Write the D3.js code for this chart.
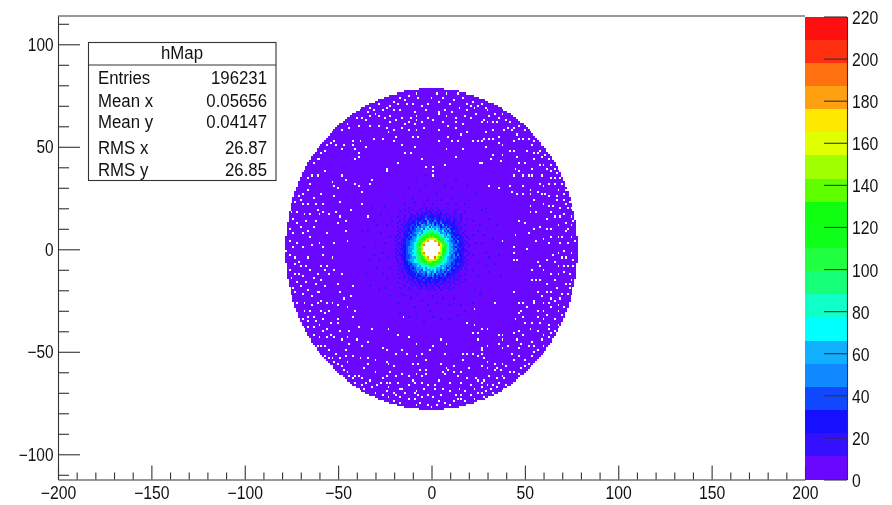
<!DOCTYPE html>
<html><head><meta charset="utf-8">
<script src="https://cdn.jsdelivr.net/npm/d3@7"></script>
<style>
html,body{margin:0;padding:0;background:#fff;overflow:hidden}
svg{display:block;filter:blur(0.4px)}
text{font-family:"Liberation Sans",Arial,sans-serif}
</style></head><body>
<svg id="c" width="892" height="505"></svg>
<script>
// Palette: one colour per 11-count band, from the colour bar, bottom to top
const bandColors=["#6a08ff","#3510ff","#1510ff","#1048ff","#1088ff","#10b0ff","#00ffff","#10ffc8","#15ff78","#20ff40","#10ff18","#10ff10","#60ff00","#a0ff00","#e0ff00","#ffe800","#ffa010","#ff7010","#ff3010","#ff1010"];
const bandWidth=11;
const zTicks=[0,20,40,60,80,100,120,140,160,180,200,220];
const xMajor=[-200,-150,-100,-50,0,50,100,150,200];
const yMajor=[-100,-50,0,50,100];
const xDomain=[-200,200], yDomain=[-112.3,113.8];
const diskRadius=78.3;
const statsTitle="hMap";
const statsNames=["Entries","Mean x","Mean y","RMS x","RMS y"];
const statsValues=["196231","0.05656","0.04147","26.87","26.85"];

// Colour band of the central bins, read row by row from y=20 down to y=-20, x=-20..20 ('.' = empty bin)
const centreRows=[
"00000000100000"+"010100"+"1"+"0010000100"+"0000100000",
"00000010001000"+"100101"+"0"+"1001010000"+"0010000000",
"00010000100010"+"010111"+"1"+"0110100100"+"0100000100",
"00000100010011"+"011201"+"2"+"1011201010"+"0010010000",
"00100010011101"+"121312"+"1"+"2112101101"+"0100010000",
"00000100120112"+"211413"+"2"+"1312110211"+"0110010010",
"00010010102131"+"232252"+"3"+"2412321121"+"0210010000",
"00100101112132"+"423153"+"2"+"4232412221"+"1201100000",
"00001011213242"+"154345"+"3"+"5243252311"+"2110100100",
"00100111132325"+"344563"+"6"+"4554233423"+"1211010000",
"00010101232354"+"463656"+"5"+"6475344253"+"2211010000",
"00101011213344"+"546778"+"6"+"8675463524"+"2311100100",
"00010111323455"+"647788"+"8"+"9786455343"+"2211101000",
"00100122243346"+"57899a"+"a"+"9a98765364"+"3222110100",
"01010112324456"+"89aabc"+"b"+"cab9875645"+"2323111010",
"00101123234567"+"8abcde"+"f"+"eecb997664"+"4232211001",
"01001123344568"+"9bceg."+"."+".gdcb97654"+"3324211100",
"00110213345678"+"acf..."+"."+"...gda9765"+"4323121010",
"01011223345679"+"bdh..."+"."+"...hec9865"+"5342121101",
"00101223455689"+"ce...."+"."+"....fca875"+"4323211001",
"01012123445679"+"bd...."+"."+"....fba975"+"5342312100",
"00101223446689"+"ce...."+"."+"....eba875"+"4432221110",
"01010223455688"+"bdh..."+"."+"...gdb9764"+"5323211001",
"00112123346678"+"acf..."+"."+"...fda8765"+"3424221010",
"01001223345578"+"9bceg."+"."+".hecb97654"+"3432321100",
"00101223455678"+"8abcde"+"f"+"edcb987654"+"4322221010",
"00100122345667"+"89abcc"+"c"+"bba9876554"+"3322121100",
"00011122324455"+"67889a"+"a"+"a998665544"+"2323111010",
"00100112233446"+"466778"+"7"+"8876555343"+"3221211000",
"00010112232354"+"556467"+"6"+"6755464324"+"2312110100",
"00101011213344"+"436555"+"6"+"5645344253"+"2211010010",
"00001101212325"+"344365"+"3"+"4634342413"+"1211100000",
"00100101121242"+"334254"+"2"+"5243324122"+"1110100100",
"00000110112132"+"233143"+"3"+"4232313121"+"1101010000",
"00010010102121"+"312322"+"2"+"3132212111"+"0110100000",
"00000100111012"+"113212"+"3"+"1212112101"+"0101000100",
"00100001001101"+"211212"+"1"+"1121011011"+"0100010000",
"00000100010101"+"101201"+"1"+"0210110101"+"0010000000",
"00000010001010"+"110110"+"1"+"1011001001"+"0000100000",
"00010000100001"+"010101"+"0"+"1001010010"+"0100000000",
"00000000010000"+"100010"+"1"+"0100100001"+"0000000000"];

// Darker bins scattered outside the central block (second colour band)
const darkerBins=[[-24,12],[-27,8],[-30,3],[-26,-2],[-33,-5],[-29,-9],[-24,-14],[-36,1],[-31,14],[-23,18],[-27,17],[-25,-19],[-30,-15],[-35,-12],[-22,-23],[-18,-26],[-14,-23],[-9,-28],[-5,-25],[-1,-30],[3,-26],[8,-29],[12,-24],[16,-27],[20,-23],[-12,-33],[-4,-35],[5,-34],[14,-32],[23,-20],[27,-15],[31,-11],[25,-6],[29,-2],[34,-7],[37,-13],[24,3],[28,7],[33,5],[38,2],[26,12],[31,15],[23,19],[-20,24],[-15,27],[-10,25],[-6,29],[-2,24],[3,27],[7,31],[11,25],[16,28],[20,24],[-8,33],[13,34],[-3,36],[-37,9],[-22,28],[24,27],[29,20],
[-22,6],[-23,-4],[-25,3],[-28,-5],[-22,-9],[-26,-12],[-21,14],[-25,21],[-31,-3],[-34,9],[-29,12],[-32,20],[-28,-20],[-33,-18],[-20,-19],[-16,-22],[-11,-24],[-7,-22],[-2,-27],[1,-23],[6,-24],[10,-27],[15,-23],[19,-20],[-17,-31],[-8,-32],[1,-33],[10,-34],[18,-30],[22,-26],[26,-22],[22,-10],[25,-13],[29,-8],[22,-3],[27,3],[31,-4],[36,-3],[22,7],[25,9],[30,10],[35,12],[22,14],[27,19],[18,22],[-14,22],[-9,23],[-4,22],[1,22],[5,24],[9,22],[13,22],[-12,30],[-3,31],[4,34],[11,30],[19,31]];

// Empty bins (white)
const emptyBins=[[-33,69],[-34,67],[-31,68],[-28,71],[-33,65],[-37,64],[-35,63],[-40,64],[-45,61],[-48,58],[-44,59],[-39,60],[-33,60],[-28,60],[-52,53],[-54,52],[-51,51],[-57,48],[-59,47],[-61,44],[-63,42],[-60,44],[-56,51],[-47,51],[-48,49],[-42,53],[-38,53],[-42,51],[-41,49],[-39,47],[-35,50],[-31,54],[-26,54],[-41,44],[-39,45],[-61,36],[-64,36],[-66,35],[-57,38],[-53,33],[-52,31],[-50,30],[-48,36],[-46,34],[-41,32],[-39,31],[-32,34],[-33,32],[-37,28],[-69,27],[-71,26],[-70,24],[-66,29],[-65,32],[-63,25],[-59,27],[-58,22],[-73,23],[-69,22],[-66,22],[-62,22],[-61,19],[-58,18],[-55,17],[-51,18],[-49,23],[-52,26],[-37,22],[-75,18],[-72,18],[-68,17],[-65,17],[-60,17],[-49,16],[-46,14],[-43,19],[-50,13],[-72,13],[-76,10],[-74,8],[-69,8],[-66,9],[-63,11],[-65,6],[-56,8],[-46,9],[-76,4],[-72,3],[-60,3],[-58,1],[-52,3],[-45,4],[-34,16],
[-17,74],[-12,75],[-8,76],[3,76],[8,76],[14,76],[-20,72],[-18,71],[-13,71],[-7,74],[-2,71],[4,72],[10,71],[17,74],[22,72],[25,70],[-24,69],[-20,68],[-17,68],[-9,67],[-3,68],[4,67],[7,68],[15,69],[19,68],[23,69],[-22,65],[-16,64],[-11,64],[-8,65],[-2,64],[4,66],[8,65],[13,64],[18,65],[21,64],[-22,62],[-8,63],[-12,62],[-9,61],[1,63],[13,62],[17,61],[27,62],[-24,59],[-16,59],[-4,59],[9,60],[13,59],[-20,58],[-23,57],[-12,58],[-8,58],[4,58],[19,57],[16,56],[-19,55],[-10,55],[-7,55],[9,55],[14,53],[11,53],[4,53],[22,53],[25,53],[27,53],[-20,53],[-16,51],[-9,50],[8,49],[17,49],[-14,47],[-11,47],[13,45],[-5,44],[-24,39],[-24,38],[-18,42],[-3,40],[1,40],[7,41],[26,42],[1,38],[1,36],
[27,71],[29,69],[30,68],[34,66],[38,66],[28,63],[30,62],[33,62],[35,62],[40,63],[41,59],[44,59],[47,60],[43,58],[29,57],[50,58],[28,54],[31,54],[33,54],[36,55],[47,54],[49,54],[44,53],[52,54],[38,51],[29,50],[36,52],[54,51],[59,51],[55,47],[58,48],[59,45],[44,48],[51,48],[33,46],[32,44],[37,43],[27,42],[46,45],[50,42],[55,44],[58,41],[63,44],[45,39],[47,38],[54,39],[62,39],[64,38],[66,39],[49,36],[44,36],[54,36],[59,36],[64,35],[69,35],[60,31],[63,32],[66,32],[31,31],[36,30],[42,31],[49,31],[53,29],[57,28],[43,28],[46,27],[49,27],[53,27],[59,27],[63,26],[67,26],[71,27],[55,24],[67,24],[74,23],[72,22],[53,21],[63,21],[65,21],[69,20],[73,20],[53,18],[56,18],[64,18],[69,16],[75,16],[47,14],[50,13],[62,15],[72,13],[75,12],[55,10],[58,11],[45,7],[52,8],[64,10],[72,9],[68,6],[64,6],[60,5],[56,4],[38,4],[70,6],[77,4],[63,3],[69,3],[73,3],[44,1],[75,6],
[-76,-3],[-73,-4],[-71,-6],[-73,-7],[-70,-8],[-66,-4],[-58,-3],[-53,-4],[-59,-8],[-56,-8],[-67,-8],[-71,-12],[-76,-10],[-65,-10],[-61,-12],[-57,-10],[-52,-10],[-48,-12],[-55,-12],[-72,-16],[-67,-16],[-63,-14],[-59,-15],[-50,-17],[-42,-18],[-74,-19],[-70,-18],[-66,-20],[-61,-21],[-57,-18],[-60,-21],[-73,-21],[-64,-23],[-47,-24],[-49,-21],[-43,-23],[-56,-26],[-53,-26],[-50,-27],[-45,-28],[-41,-30],[-68,-30],[-65,-30],[-59,-30],[-57,-31],[-55,-30],[-69,-34],[-66,-33],[-62,-35],[-58,-34],[-50,-34],[-42,-33],[-66,-35],[-56,-39],[-50,-36],[-32,-39],[-39,-38],[-49,-40],[-44,-40],[-63,-42],[-60,-43],[-56,-43],[-52,-43],[-48,-44],[-45,-43],[-61,-47],[-57,-47],[-40,-44],[-34,-45],[-55,-49],[-51,-51],[-46,-49],[-37,-47],[-26,-48],[-57,-52],[-53,-53],[-46,-52],[-38,-53],[-34,-53],[-30,-54],[-52,-55],[-50,-56],[-45,-55],[-34,-56],[-48,-57],[-45,-60],[-42,-63],[-41,-62],[-37,-63],[-33,-64],[-26,-63],[-41,-65],[-37,-66],[-32,-67],[-29,-66],[-27,-65],[-35,-65],
[-15,-33],[23,-29],[19,-36],[-23,-39],[-18,-42],[-12,-43],[5,-44],[8,-46],[1,-47],[-8,-46],[-24,-49],[-1,-49],[23,-37],[22,-41],[25,-41],[25,-44],[27,-49],[-16,-49],[-19,-51],[-13,-51],[-5,-51],[7,-51],[17,-51],[19,-51],[22,-51],[27,-51],[-8,-52],[-3,-54],[17,-54],[25,-52],[5,-56],[-24,-55],[-23,-56],[-10,-56],[-7,-56],[-20,-57],[12,-57],[8,-58],[-6,-59],[-3,-59],[6,-60],[9,-59],[12,-60],[-22,-60],[-8,-61],[-3,-61],[7,-61],[-16,-61],[-19,-62],[-12,-62],[-10,-64],[19,-63],[24,-63],[25,-64],[-22,-65],[-24,-65],[-18,-65],[-9,-65],[-5,-65],[-2,-66],[2,-66],[16,-65],[21,-66],[27,-65],[-23,-67],[-17,-68],[-16,-68],[-8,-69],[-4,-68],[2,-68],[6,-68],[10,-69],[15,-68],[18,-69],[23,-68],[-24,-69],[-20,-70],[-9,-70],[-7,-71],[-2,-71],[5,-71],[13,-71],[16,-71],[21,-71],[25,-70],[-17,-72],[-23,-72],[1,-72],[14,-73],[-5,-72],[-9,-73],[4,-74],[12,-74],[23,-73],[18,-74],[-17,-75],[-8,-76],[-2,-76],[3,-76],[-20,-74],
[44,-2],[51,0],[65,-3],[68,-2],[71,-1],[72,-4],[75,-2],[44,-5],[46,-5],[57,-6],[58,-8],[73,-8],[71,-8],[76,-8],[54,-10],[60,-10],[64,-12],[68,-12],[71,-11],[74,-12],[75,-15],[54,-15],[56,-15],[58,-15],[62,-17],[72,-17],[74,-17],[67,-19],[57,-21],[64,-21],[73,-22],[44,-21],[59,-23],[55,-25],[64,-24],[66,-25],[34,-26],[47,-26],[49,-26],[63,-26],[68,-27],[55,-26],[60,-26],[64,-28],[71,-28],[51,-28],[57,-30],[48,-30],[47,-31],[68,-30],[70,-32],[57,-33],[49,-33],[45,-34],[60,-34],[63,-37],[54,-36],[50,-36],[68,-37],[53,-39],[57,-40],[47,-40],[44,-41],[63,-39],[64,-41],[27,-39],[30,-39],[38,-42],[36,-42],[49,-42],[55,-47],[59,-44],[63,-43],[54,-45],[48,-46],[38,-44],[30,-47],[36,-46],[41,-47],[60,-47],[57,-49],[47,-48],[38,-48],[27,-48],[27,-51],[43,-51],[47,-52],[54,-52],[50,-54],[44,-54],[28,-53],[34,-56],[30,-55],[38,-56],[50,-57],[27,-57],[40,-57],[30,-58],[34,-59],[37,-59],[44,-60],[47,-61],[38,-62],[35,-63],[39,-63],[30,-66],[27,-67],[33,-66],[36,-65],[29,-69],[32,-68],[27,-70],[35,-67],
[-77,14],[-74,15],[-70,11],[-67,14],[-62,14],[-78,-1],[-74,1],[-69,1],[-64,2],[-75,-14],[-73,-12],[-69,-13],[-62,-17],[-69,-22],[-72,-26],[-64,-27],[-61,-26],[-68,-26],[-59,-25],[-63,-33],[-60,-37],[-66,-38],[-63,-38],[-58,-40],[-54,-36],[-54,-42],[-59,-47],
[-30,66],[-26,68],[-22,70],[-14,73],[-10,71],[-5,70],[0,74],[6,74],[12,73],[19,71],[21,70],[-28,65],[-25,64],[-19,63],[-14,61],[-5,62],[6,62],[11,67],[24,66],[31,65],[36,64],[42,62],[46,56],[39,58],[33,58],[55,53],[57,47],[61,46],[60,41],[64,41],[67,37],[66,35],[70,32],[72,29],[68,29],[61,27],[71,24],[75,20],[71,17],[76,14],[73,10],[68,12],[66,16],[62,10],[60,22],[58,32],[52,36],[47,42],[42,48],[38,46],
[76,-5],[70,-4],[68,-8],[66,-6],[62,-5],[74,-19],[70,-22],[66,-15],[62,-21],[69,-24],[60,-30],[66,-34],[62,-32],[58,-36],[66,-40],[60,-42],[52,-47],[46,-44],[55,-50],[52,-56],[48,-58],[42,-60],[44,-65],[40,-66],[33,-70],[28,-72],[25,-74],[20,-76],[16,-73],[10,-76],[7,-75],[0,-77],[-6,-75],[-12,-73],[-14,-70],[-19,-71],[-26,-71],[-30,-70],[-36,-68],[-39,-62],[-44,-62],[-47,-59],[-53,-57],[-55,-53],[-49,-53],[-42,-52],[-44,-46],[-36,-58],[-30,-60],[-24,-62],[-12,-66],[-5,-62],[4,-64],[10,-65],[14,-62],[28,-64],[31,-62],[35,-58],[20,-58],[16,-60]];

const svg=d3.select("#c");
const x=d3.scaleLinear().domain(xDomain).range([58,805]);
const y=d3.scaleLinear().domain(yDomain).range([479.5,16]);
const z=d3.scaleLinear().domain([0,220]).range([479.5,16.5]);

// Build the bins
const emptySet=new Set(emptyBins.map(d=>d.join()));
const darkSet=new Set(darkerBins.map(d=>d.join()));
const half=(centreRows.length-1)/2;
const cells=[];
for(const j of d3.range(-79,80)) for(const i of d3.range(-79,80)){
  if(i*i+j*j>diskRadius*diskRadius) continue;
  const key=i+","+j;
  if(emptySet.has(key)) continue;
  let band=darkSet.has(key)?1:0;
  if(Math.abs(i)<=half&&Math.abs(j)<=half){
    const ch=centreRows[half-j][i+half];
    if(ch===".") continue;
    band=parseInt(ch,36);
  }
  cells.push({i,j,band});
}
const gCells=svg.append("g").attr("shape-rendering","crispEdges");
gCells.selectAll("rect").data(cells).join("rect")
  .attr("x",d=>x(d.i-.5)).attr("y",d=>y(d.j+.5))
  .attr("width",d=>x(d.i+.5)-x(d.i-.5)).attr("height",d=>y(d.j-.5)-y(d.j+.5))
  .attr("fill",d=>bandColors[d.band]);

// Colour bar
svg.append("g").attr("shape-rendering","crispEdges").selectAll("rect").data(bandColors).join("rect")
  .attr("x",805).attr("width",42)
  .attr("y",(d,k)=>z((k+1)*bandWidth)).attr("height",(d,k)=>z(k*bandWidth)-z((k+1)*bandWidth))
  .attr("fill",d=>d);

const lineCol="#333", textCol="#111";
function style(g,sw){g.selectAll("path,line").attr("stroke",lineCol).attr("stroke-width",sw);}
function labels(g,size,sx){
  g.selectAll("text").style("font-size",size+"px").attr("fill",textCol)
   .each(function(){const t=d3.select(this);
     const px=+t.attr("x")||0,py=+t.attr("y")||0;
     t.attr("x",null).attr("y",null).attr("transform",`translate(${px},${py}) scale(${sx},1)`);});
}
const minorOf=(dom,step,maj)=>d3.range(Math.ceil(dom[0]/step)*step,dom[1]+.01,step).filter(v=>!maj.includes(v));

// Axes (major and minor ticks point inward, as in the reference)
const xMinor=svg.append("g").attr("transform","translate(0,479.5)").call(d3.axisBottom(x).tickValues(minorOf(xDomain,10,xMajor)).tickSize(-7).tickFormat(""));
xMinor.select(".domain").remove();style(xMinor,1.1);
const xAx=svg.append("g").attr("transform","translate(0,479.5)").call(d3.axisBottom(x).tickValues(xMajor).tickSize(-14).tickSizeOuter(0).tickPadding(6));
style(xAx,1.1);xAx.selectAll("text").attr("y",19).attr("dy",null);labels(xAx,17.5,.9);

const yMinor=svg.append("g").attr("transform","translate(58,0)").call(d3.axisLeft(y).tickValues(minorOf(yDomain,10,yMajor)).tickSize(-11).tickFormat(""));
yMinor.select(".domain").remove();style(yMinor,1.1);
const yAx=svg.append("g").attr("transform","translate(58,0)").call(d3.axisLeft(y).tickValues(yMajor).tickSize(-22).tickSizeOuter(0));
style(yAx,1.1);yAx.selectAll("text").attr("x",-4.5).attr("y",6).attr("dy",null);labels(yAx,17.5,.88);

// Top edge of the frame
svg.append("line").attr("x1",x(xDomain[0])).attr("x2",x(xDomain[1])).attr("y1",y(yDomain[1])).attr("y2",y(yDomain[1])).attr("stroke",lineCol).attr("stroke-width",1.1);

const zAx=svg.append("g").attr("transform","translate(847,0)").call(d3.axisRight(z).tickValues(zTicks).tickSize(-23).tickSizeOuter(0));
style(zAx,1.1);zAx.selectAll("text").attr("x",5).attr("y",7).attr("dy",null);labels(zAx,17.5,.9);

// Statistics box
const box=svg.append("g");
const bl=88.5,br=276,bt=42.5,bb=180.5,sep=65;
box.append("rect").attr("x",bl).attr("y",bt).attr("width",br-bl).attr("height",bb-bt).attr("fill","#fff").attr("stroke",lineCol).attr("stroke-width",1.1);
box.append("line").attr("x1",bl).attr("x2",br).attr("y1",sep).attr("y2",sep).attr("stroke",lineCol).attr("stroke-width",1.1);
const put=(t,px,py,anc)=>box.append("text").attr("transform",`translate(${px},${py}) scale(.96,1)`).attr("text-anchor",anc).attr("fill",textCol).style("font-size","17.5px").text(t);
put(statsTitle,182,59,"middle");
const rowY=[84,106.5,127.5,154,175.5];
statsNames.forEach((t,k)=>put(t,98,rowY[k],"start"));
statsValues.forEach((t,k)=>put(t,267,rowY[k],"end"));
</script>
</body></html>
